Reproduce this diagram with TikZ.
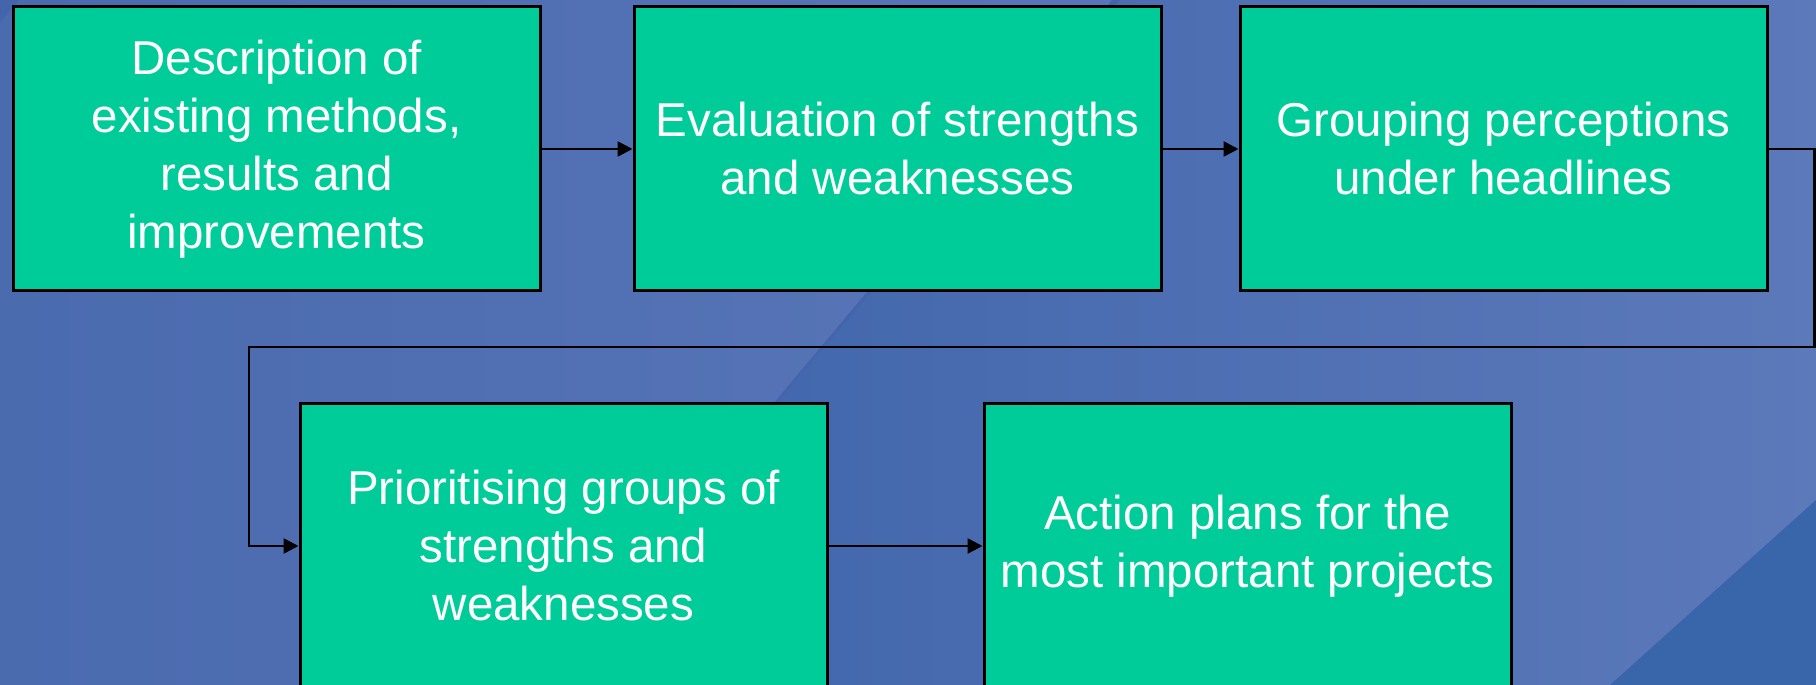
\documentclass[tikz,border=0pt]{standalone}
\usepackage{fontspec}
\setmainfont{Liberation Sans}
\usepackage{tikz}
\usetikzlibrary{arrows.meta}
\definecolor{stepGreen}{RGB}{0,204,153}
\definecolor{bgBase}{RGB}{68,101,171}
\definecolor{bgLight}{RGB}{92,121,186}
\definecolor{bgDark}{RGB}{62,100,170}
\definecolor{bgWedge}{RGB}{57,101,170}
\tikzset{
  stepbox/.style={draw=black, line width=3pt, fill=stepGreen, text=white,
    minimum width=527pt, minimum height=284pt, inner sep=0pt, align=center,
    font=\fontsize{47.5}{58}\selectfont},
  flow/.style={line width=2.6pt, -{Triangle[length=15pt,width=15pt]}}
}
\begin{document}
\begin{tikzpicture}[x=1pt, y=1pt]

  % background
  \useasboundingbox (0,0) rectangle (1816,685);
  \fill [bgBase] (0,0) rectangle (1816,685);
  \begin{scope}
    \clip (0,0) -- (537,0) -- (1120,685) -- (0,685) -- cycle;
    \shade [rotate around={-40:(537,0)}, left color=bgBase, right color=bgLight]
      (-300,-700) rectangle (537,1400);
  \end{scope}
  \begin{scope}
    \clip (537,0) -- (1120,685) -- (1816,685) -- (1816,0) -- cycle;
    \shade [left color=bgDark, right color=bgLight] (537,0) rectangle (1816,685);
  \end{scope}
  \fill [bgWedge] (1610,0) -- (1816,185) -- (1816,0) -- cycle;

  % steps
  \node[stepbox] (desc)  at (276.5,536) {Description of\\existing methods,\\results and\\improvements};
  \node[stepbox] (eval)  at (897.5,536) {Evaluation of strengths\\and weaknesses};
  \node[stepbox] (group) at (1503.5,536) {Grouping perceptions\\under headlines};
  \node[stepbox] (prio)  at (563.5,139) {Prioritising groups of\\strengths and\\weaknesses};
  \node[stepbox] (plan)  at (1247.5,139) {Action plans for the\\most important projects};

  \coordinate (turnR) at (1814.5,338);
  \coordinate (turnL) at (249,338);

  \draw[flow] (desc) -- (eval);
  \draw[flow] (eval) -- (group);
  \draw[flow] (group.east) -| (turnR) -- (turnL) |- (prio.west);
  \draw[flow] (prio) -- (plan);
\end{tikzpicture}
\end{document}
